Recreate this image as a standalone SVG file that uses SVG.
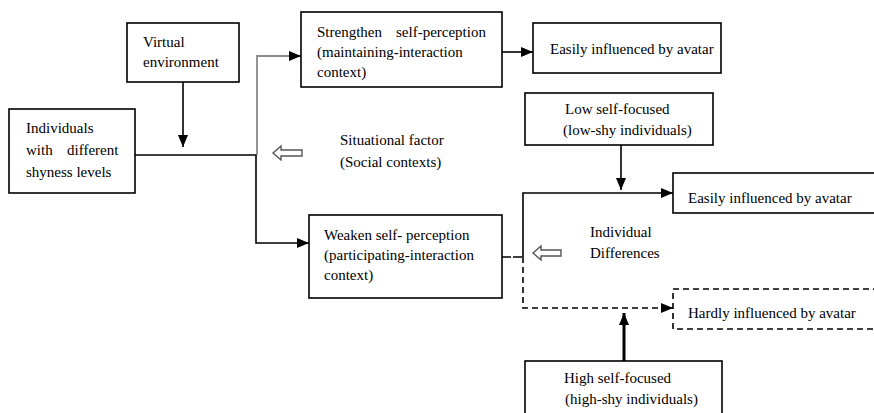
<svg xmlns="http://www.w3.org/2000/svg" width="874" height="413" viewBox="0 0 874 413" font-family="Liberation Serif, Times New Roman, serif" font-size="15">
<style>
.box{fill:#fff;stroke:#000;stroke-width:1.6}
.dbox{fill:#fff;stroke:#000;stroke-width:1.6;stroke-dasharray:6 4}
.c{fill:none;stroke:#000;stroke-width:1.6}
.g{fill:none;stroke:#8a8a8a;stroke-width:1.8}
.d{fill:none;stroke:#000;stroke-width:1.6;stroke-dasharray:6 4}
.hollow{fill:#fff;stroke:#555;stroke-width:1.4}
</style>
<defs>
<marker id="ah" markerUnits="userSpaceOnUse" markerWidth="12" markerHeight="12" viewBox="0 0 12 12" refX="12" refY="6" orient="auto">
<path d="M0,1 L12,6 L0,11 Z" fill="#000"/>
</marker>
</defs>
<g id="connectors">
<path class="c" d="M183,82 V147" marker-end="url(#ah)"/>
<path class="c" d="M135,155 H257"/>
<path class="g" d="M257,155 V56 H289"/>
<path class="c" d="M289,56 H301" marker-end="url(#ah)"/>
<path class="c" d="M256,155 V243 H309" marker-end="url(#ah)"/>
<path class="c" d="M502,52 H533" marker-end="url(#ah)"/>
<path class="c" d="M621,145 V190" marker-end="url(#ah)"/>
<path class="c" d="M502,257 H523" stroke-dasharray="9 2"/>
<path class="c" d="M523,257 V193 H673" marker-end="url(#ah)"/>
<path class="d" d="M523,257 V308 H671"/>
<path class="c" d="M661,308 H673" marker-end="url(#ah)"/>
<path fill="none" stroke="#000" stroke-width="3" d="M624,361 V313" marker-end="url(#ah)"/>
</g>
<g id="arrow-situational">
<polygon class="hollow" points="273,153 281,146 281,150 302,150 302,156 281,156 281,160"/>
</g>
<g id="arrow-individual">
<polygon class="hollow" points="533,253 541,246 541,250 561,250 561,256 541,256 541,260"/>
</g>
<g id="virtual">
<rect class="box" x="127" y="23" width="112" height="59"/>
<text x="143" y="47">Virtual</text>
<text x="143" y="67">environment</text>
</g>
<g id="individuals">
<rect class="box" x="9" y="109" width="126" height="84"/>
<text x="26" y="133">Individuals</text>
<text x="26" y="155">with</text>
<text x="67" y="155">different</text>
<text x="26" y="177">shyness levels</text>
</g>
<g id="strengthen">
<rect class="box" x="301" y="12" width="201" height="75"/>
<text x="317" y="37">Strengthen</text>
<text x="396" y="37">self-perception</text>
<text x="317" y="57">(maintaining-interaction</text>
<text x="317" y="77">context)</text>
</g>
<g id="easily-top">
<rect class="box" x="533" y="23" width="188" height="50"/>
<text x="550" y="54">Easily influenced by avatar</text>
</g>
<g id="situational-label">
<text x="340" y="145">Situational factor</text>
<text x="340" y="167">(Social contexts)</text>
</g>
<g id="weaken">
<rect class="box" x="309" y="215" width="193" height="83"/>
<text x="324" y="240">Weaken self- perception</text>
<text x="324" y="260">(participating-interaction</text>
<text x="324" y="280">context)</text>
</g>
<g id="low">
<rect class="box" x="525" y="93" width="188" height="52"/>
<text x="565" y="114">Low self-focused</text>
<text x="563" y="135">(low-shy individuals)</text>
</g>
<g id="easily-right">
<rect class="box" x="673" y="173" width="210" height="40"/>
<text x="688" y="203">Easily influenced by avatar</text>
</g>
<g id="individual-label">
<text x="590" y="237">Individual</text>
<text x="590" y="258">Differences</text>
</g>
<g id="hardly">
<rect class="dbox" x="673" y="289" width="210" height="40"/>
<text x="688" y="318">Hardly influenced by avatar</text>
</g>
<g id="high">
<rect class="box" x="525" y="361" width="197" height="60"/>
<text x="564" y="383">High self-focused</text>
<text x="565" y="404">(high-shy individuals)</text>
</g>
</svg>
